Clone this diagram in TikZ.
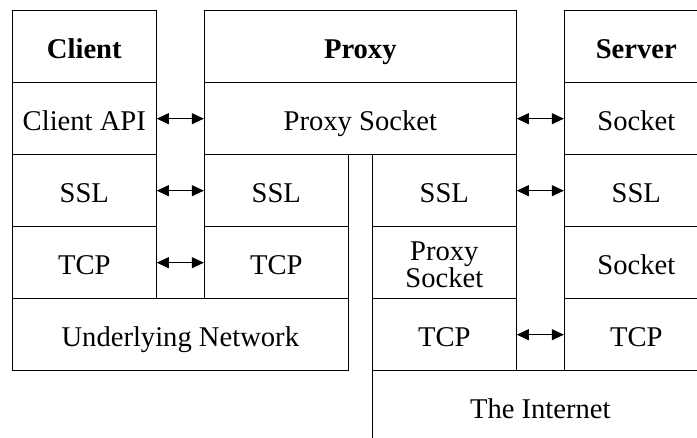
\documentclass[tikz,border=0pt]{standalone}
\usepackage{fontspec}
\setmainfont{Liberation Serif}
\newfontfamily\timesface{Liberation Serif}
\usetikzlibrary{arrows.meta}
\tikzset{
  cell/.style={draw, line width=1pt, rectangle, inner sep=0pt, anchor=center,
               minimum height=72pt, align=center,
               text height=24.6pt, text depth=0pt,
               font=\timesface\fontsize{28.6}{24.6}\selectfont},
  narrow/.style={cell, minimum width=144pt},
  wide/.style={cell, minimum width=336pt},
  head/.style={narrow, font=\timesface\fontsize{28.6}{24.6}\selectfont\bfseries},
  twoline/.style={narrow, text height=49.2pt, text depth=0pt},
  biarrow/.style={line width=1pt, {Triangle[length=12pt,width=11pt]}-{Triangle[length=12pt,width=11pt]}}
}
\begin{document}
\begin{tikzpicture}[x=1pt,y=1pt]
\useasboundingbox (0,0) rectangle (697,-438);
\clip (0,0) rectangle (697,-438);
% client stack
\node[head]   (chead) at (84.3,-46.7)  {Client};
\node[narrow] (capi)  at (84.3,-118.7) {Client API};
\node[narrow] (cssl)  at (84.3,-190.7) {SSL};
\node[narrow] (ctcp)  at (84.3,-262.7) {TCP};
\node[wide]   (unet)  at (180.3,-334.7) {Underlying Network};
% proxy stack
\node[head, minimum width=312pt] (phead) at (360.3,-46.7)  {Proxy};
\node[cell, minimum width=312pt] (psock) at (360.3,-118.7) {Proxy Socket};
\node[narrow] (pssl)  at (276.3,-190.7) {SSL};
\node[narrow] (ptcp)  at (276.3,-262.7) {TCP};
\node[narrow] (pssl2) at (444.3,-190.7) {SSL};
\node[twoline] (psock2) at (444.3,-262.7) {Proxy\\Socket};
\node[narrow] (ptcp2) at (444.3,-334.7) {TCP};
\node[wide]   (inet)  at (540.3,-406.7) {The Internet};
% server stack
\node[head]   (shead) at (636.3,-46.7)  {Server};
\node[narrow] (ssock) at (636.3,-118.7) {Socket};
\node[narrow] (sssl)  at (636.3,-190.7) {SSL};
\node[narrow] (ssock2) at (636.3,-262.7) {Socket};
\node[narrow] (stcp)  at (636.3,-334.7) {TCP};
% peer links
\draw[biarrow] (capi.east) -- (psock.west);
\draw[biarrow] (cssl.east) -- (pssl.west);
\draw[biarrow] (ctcp.east) -- (ptcp.west);
\draw[biarrow] (psock.east) -- (ssock.west);
\draw[biarrow] (pssl2.east) -- (sssl.west);
\draw[biarrow] (ptcp2.east) -- (stcp.west);
\end{tikzpicture}
\end{document}
